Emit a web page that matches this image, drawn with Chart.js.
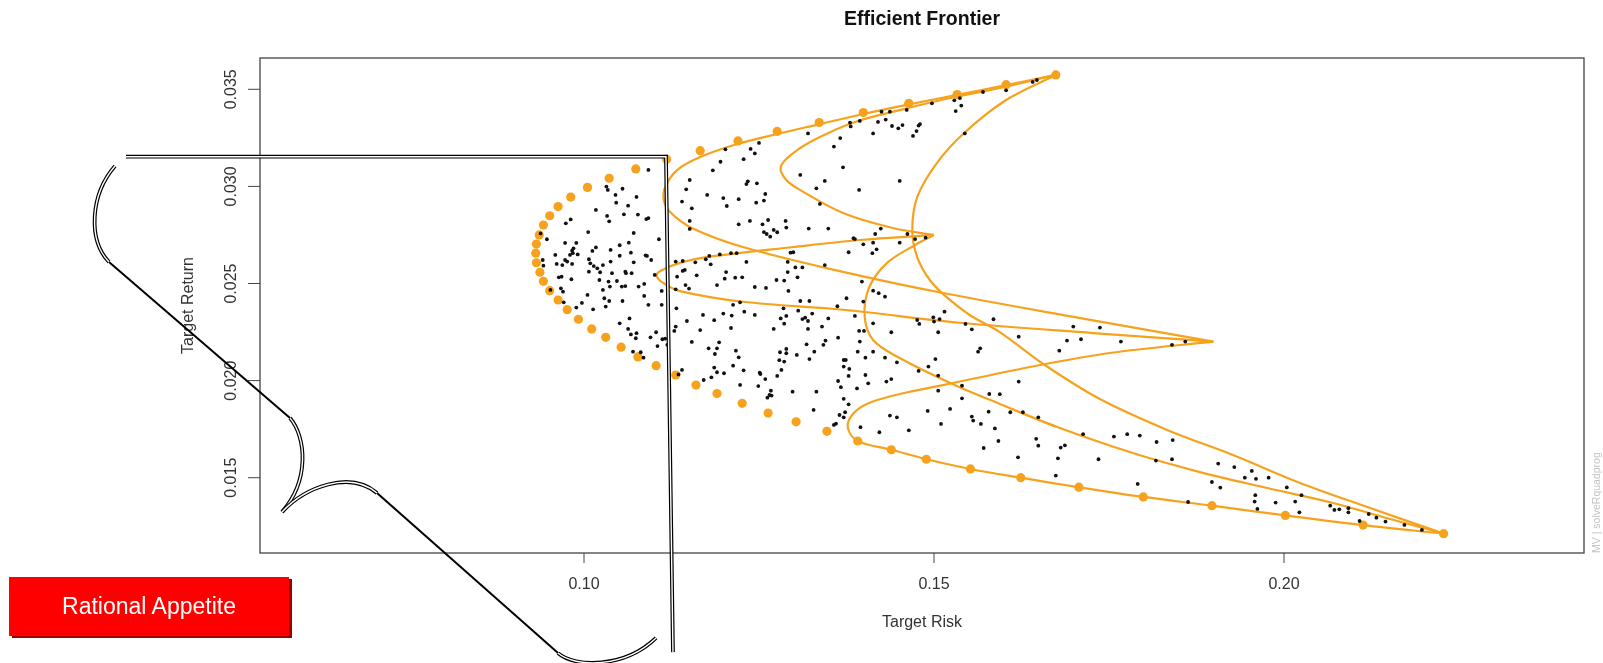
<!DOCTYPE html>
<html>
<head>
<meta charset="utf-8">
<title>Efficient Frontier</title>
<script src="https://cdn.jsdelivr.net/npm/chart.js@4.4.1/dist/chart.umd.min.js"></script>
<style>
  html, body { margin: 0; padding: 0; background: #fff; }
  #wrap { position: relative; width: 1603px; height: 663px; overflow: hidden; }
  .badge {
    position: absolute; left: 9px; top: 577px; width: 280px; height: 59px;
    background: #ff0000; color: #fff;
    font: 23px "Liberation Sans", Arial, sans-serif;
    display: flex; align-items: center; justify-content: center;
    box-shadow: 3px 2px 0 #9a0000;
  }
</style>
</head>
<body>
<div id="wrap">
  <canvas id="frontierChart" width="1603" height="663"></canvas>
  <div class="badge">Rational Appetite</div>
</div>
<script>
// axis ranges and ticks (risk = x, return = y)
var riskRange = [0.053714, 0.242857];
var returnRange = [0.011123, 0.036612];
var riskTicks = [0.10, 0.15, 0.20];
var riskTickLabels = ['0.10', '0.15', '0.20'];
var returnTicks = [0.015, 0.020, 0.025, 0.030, 0.035];
var returnTickLabels = ['0.015', '0.020', '0.025', '0.030', '0.035'];

// random feasible portfolios [risk, return]
var portfolios = [
  [0.1570,0.03486],[0.1603,0.03495],[0.1529,0.03443],[0.1537,0.03455],[0.1539,0.03416],[0.1531,0.03388],[0.1497,0.03428],[0.1461,0.03394],[0.1437,0.03385],[0.1425,0.03385],
  [0.1431,0.03344],[0.1420,0.03332],[0.1440,0.03311],[0.1449,0.03299],[0.1455,0.03316],[0.1480,0.03321],[0.1478,0.03313],[0.1475,0.03285],[0.1470,0.03260],[0.1413,0.03273],
  [0.1394,0.03337],[0.1381,0.03309],[0.1380,0.03328],[0.1544,0.03273],[0.1366,0.03249],[0.1357,0.03205],[0.1320,0.03273],[0.1250,0.03224],[0.1238,0.03193],[0.1244,0.03170],
  [0.1228,0.03140],[0.1202,0.03191],[0.1195,0.03127],[0.1184,0.03083],[0.1370,0.03098],[0.1451,0.03028],[0.1309,0.03059],[0.1344,0.03028],[0.1332,0.02990],[0.1393,0.02982],
  [0.1337,0.02910],[0.1151,0.03033],[0.1146,0.02985],[0.1140,0.02922],[0.1154,0.02887],[0.1176,0.02956],[0.1199,0.02940],[0.1204,0.02899],[0.1221,0.02934],[0.1232,0.03012],
  [0.1234,0.03026],[0.1247,0.03016],[0.1259,0.02961],[0.1246,0.02916],[0.1257,0.02927],[0.1151,0.02822],[0.1151,0.02781],[0.1221,0.02805],[0.1237,0.02822],[0.1255,0.02805],
  [0.1263,0.02827],[0.1257,0.02765],[0.1261,0.02755],[0.1266,0.02741],[0.1271,0.02776],[0.1276,0.02764],[0.1288,0.02822],[0.1289,0.02788],[0.1321,0.02783],[0.1349,0.02783],
  [0.1385,0.02733],[0.1387,0.02729],[0.1399,0.02702],[0.1413,0.02710],[0.1416,0.02755],[0.1424,0.02783],[0.1451,0.02710],[0.1462,0.02755],[0.1473,0.02729],[0.1488,0.02736],
  [0.1378,0.02661],[0.1412,0.02656],[0.1418,0.02676],[0.1299,0.02661],[0.1295,0.02659],[0.1344,0.02595],[0.1291,0.02611],[0.1302,0.02583],[0.1312,0.02583],[0.1291,0.02559],
  [0.1286,0.02515],[0.1275,0.02518],[0.1292,0.02462],[0.1305,0.02532],[0.1260,0.02477],[0.1244,0.02482],[0.1232,0.02611],[0.1218,0.02656],[0.1210,0.02656],[0.1194,0.02650],
  [0.1179,0.02642],[0.1174,0.02625],[0.1181,0.02599],[0.1159,0.02609],[0.1141,0.02616],[0.1131,0.02613],[0.1141,0.02565],[0.1144,0.02570],[0.1161,0.02542],[0.1133,0.02535],
  [0.1131,0.02470],[0.1145,0.02492],[0.1150,0.02474],[0.1201,0.02525],[0.1216,0.02530],[0.1226,0.02532],[0.1190,0.02492],[0.1203,0.02559],[0.1397,0.02510],[0.1413,0.02463],
  [0.1421,0.02450],[0.1430,0.02432],[0.1375,0.02424],
  [0.1092,0.03085],[0.1032,0.02999],[0.1034,0.02982],[0.1055,0.02988],[0.1045,0.02956],[0.1046,0.02916],[0.1063,0.02901],[0.1075,0.02946],[0.1017,0.02879],[0.1033,0.02848],
  [0.1036,0.02820],[0.1057,0.02856],[0.1077,0.02855],[0.1089,0.02832],[0.1092,0.02837],[0.1071,0.02760],[0.1107,0.02728],[0.1006,0.02765],[0.0981,0.02830],[0.0974,0.02810],
  [0.0947,0.02728],[0.0938,0.02758],[0.0973,0.02709],[0.0989,0.02709],[0.0985,0.02681],[0.0983,0.02669],[0.0980,0.02647],[0.0984,0.02656],[0.0991,0.02650],[0.0959,0.02647],
  [0.0961,0.02601],[0.0941,0.02621],[0.0942,0.02592],[0.0973,0.02621],[0.0976,0.02613],[0.0969,0.02595],[0.0983,0.02601],
  [0.1012,0.02668],[0.1017,0.02686],[0.1038,0.02673],[0.1051,0.02697],[0.1064,0.02710],[0.1067,0.02659],[0.1088,0.02645],[0.1090,0.02642],[0.1096,0.02621],[0.1071,0.02609],
  [0.1051,0.02643],[0.1038,0.02613],[0.1007,0.02625],[0.1009,0.02604],[0.1014,0.02590],[0.1019,0.02578],[0.1027,0.02595],[0.1040,0.02553],[0.1059,0.02561],[0.1060,0.02553],
  [0.1068,0.02553],[0.1023,0.02558],[0.1007,0.02561],[0.0964,0.02532],[0.0968,0.02535],[0.0982,0.02522],[0.1022,0.02518],[0.1035,0.02510],[0.1037,0.02484],[0.1027,0.02467],
  [0.1047,0.02513],[0.1054,0.02484],[0.1059,0.02487],[0.1078,0.02484],[0.1086,0.02498],[0.1101,0.02544],[0.1111,0.02462],[0.0967,0.02475],[0.0970,0.02458],[0.0952,0.02467],
  [0.1005,0.02441],[0.1029,0.02424],[0.1641,0.03538],[0.1647,0.03548],
  [0.0971,0.02403],[0.0997,0.02400],[0.1036,0.02410],[0.1055,0.02410],[0.1086,0.02436],[0.1092,0.02390],[0.1111,0.02390],[0.0989,0.02376],[0.1013,0.02367],[0.1031,0.02381],
  [0.1051,0.02295],[0.1065,0.02320],[0.1063,0.02266],[0.1067,0.02238],[0.1075,0.02244],[0.1074,0.02218],[0.1095,0.02223],[0.1103,0.02249],[0.1105,0.02178],[0.1112,0.02213],
  [0.1116,0.02216],[0.1119,0.02184],[0.1070,0.02149],[0.1081,0.02146],[0.1085,0.02118],[0.1132,0.02372],[0.1129,0.02256],[0.1131,0.02278],[0.1147,0.02307],[0.1170,0.02338],
  [0.1186,0.02311],[0.1199,0.02345],[0.1211,0.02335],[0.1210,0.02271],[0.1223,0.02403],[0.1229,0.02355],[0.1244,0.02338],[0.1213,0.02390],[0.1154,0.02199],[0.1166,0.02260],
  [0.1178,0.02166],[0.1190,0.02166],[0.1187,0.02137],[0.1193,0.02197],[0.1217,0.02154],[0.1221,0.02120],[0.1186,0.02067],[0.1190,0.02043],[0.1200,0.02038],
  [0.1213,0.02077],[0.1228,0.02053],[0.1182,0.02017],[0.1171,0.02003],[0.1140,0.02055],[0.1135,0.02032],[0.1223,0.01978],[0.1249,0.01972],[0.1251,0.02041],[0.1252,0.02034],
  [0.1259,0.02008],[0.1267,0.01948],[0.1265,0.01926],[0.1262,0.01912],[0.1268,0.01923],[0.1276,0.02024],[0.1282,0.02055],[0.1298,0.01943],[0.1285,0.02372],[0.1281,0.02320],
  [0.1289,0.02333],[0.1286,0.02293],[0.1271,0.02266],[0.1280,0.02146],[0.1289,0.02163],[0.1289,0.02141],[0.1279,0.02105],[0.1286,0.02098],[0.1304,0.02132],[0.1309,0.02410],
  [0.1322,0.02410],[0.1306,0.02360],[0.1312,0.02317],[0.1316,0.02324],[0.1320,0.02307],[0.1326,0.02345],[0.1320,0.02266],[0.1340,0.02278],[0.1349,0.02320],[0.1318,0.02187],
  [0.1322,0.02111],[0.1329,0.02149],[0.1342,0.02184],[0.1345,0.02206],[0.1332,0.01943],[0.1328,0.01849],[0.1363,0.02221],[0.1371,0.02106],[0.1374,0.02106],[0.1371,0.02072],
  [0.1379,0.02060],[0.1378,0.02024],[0.1363,0.01998],[0.1367,0.01966],[0.1390,0.01960],[0.1371,0.01906],[0.1378,0.01878],[0.1373,0.01837],[0.1365,0.01823],[0.1371,0.01811],
  [0.1360,0.01778],[0.1357,0.01772],[0.1362,0.02383],[0.1387,0.02333],[0.1399,0.02407],[0.1393,0.02256],[0.1400,0.02256],[0.1394,0.02201],[0.1391,0.02149],[0.1402,0.02118],
  [0.1413,0.02149],[0.1430,0.02118],[0.1447,0.02094],[0.1439,0.02249],[0.1413,0.02295],[0.1402,0.02029],[0.1406,0.01986],[0.1432,0.01995],[0.1439,0.02008],[0.1437,0.01820],
  [0.1447,0.01811],[0.1422,0.01734],[0.1464,0.01744],[0.1395,0.01760],[0.1491,0.01844],[0.1510,0.01777],[0.1523,0.01854],[0.1554,0.01815],[0.1556,0.01794],[0.1567,0.01777],
  [0.1578,0.01840],[0.1587,0.01754],[0.1592,0.01689],[0.1571,0.01653],[0.1609,0.01837],[0.1620,0.01605],[0.1627,0.01837],[0.1476,0.02312],[0.1479,0.02292],[0.1499,0.02326],
  [0.1500,0.02304],[0.1508,0.02317],[0.1515,0.02355],[0.1506,0.02249],[0.1554,0.02264],[0.1545,0.02292],[0.1585,0.02316],[0.1621,0.02226],[0.1563,0.02149],[0.1566,0.02166],
  [0.1478,0.02050],[0.1492,0.02072],[0.1502,0.02111],[0.1506,0.02026],[0.1506,0.01948],[0.1540,0.01974],[0.1540,0.01909],[0.1579,0.01931],[0.1594,0.01930],[0.1621,0.01995],
  [0.1699,0.02278],[0.1737,0.02273],[0.1690,0.02206],[0.1710,0.02213],[0.1767,0.02201],[0.1679,0.02154],[0.1840,0.02184],[0.1859,0.02201],[0.1649,0.01811],[0.1646,0.01700],
  [0.1649,0.01665],[0.1681,0.01655],[0.1687,0.01667],[0.1677,0.01600],[0.1674,0.01511],[0.1713,0.01724],[0.1735,0.01595],[0.1757,0.01712],[0.1776,0.01724],[0.1794,0.01717],
  [0.1818,0.01684],[0.1841,0.01694],[0.1817,0.01588],[0.1840,0.01595],[0.1791,0.01468],[0.1863,0.01375],[0.1906,0.01573],[0.1929,0.01555],[0.1944,0.01500],[0.1954,0.01535],
  [0.1960,0.01494],[0.1978,0.01500],[0.1897,0.01478],[0.1909,0.01449],[0.2004,0.01450],[0.2025,0.01410],[0.1959,0.01410],[0.1958,0.01377],[0.1962,0.01339],[0.1988,0.01372],
  [0.2016,0.01377],[0.2022,0.01322],[0.2066,0.01356],[0.2072,0.01334],[0.2079,0.01337],[0.2092,0.01343],[0.2092,0.01322],[0.2108,0.01277],[0.2121,0.01313],[0.2132,0.01294],
  [0.2145,0.01274],[0.2172,0.01257],[0.2197,0.01231]
];

// frontier portfolios (orange dots)
var frontier = [
  [0.1674,0.03574],[0.1603,0.03524],[0.1533,0.03473],[0.1464,0.03428],[0.1399,0.03380],[0.1336,0.03329],[0.1276,0.03283],[0.1220,0.03234],[0.1166,0.03184],[0.1118,0.03140],
  [0.1074,0.03090],[0.1036,0.03042],[0.1005,0.02995],[0.0981,0.02945],[0.0963,0.02896],[0.0951,0.02849],[0.0942,0.02801],[0.0936,0.02750],[0.0932,0.02703],[0.0931,0.02656],
  [0.0932,0.02607],[0.0937,0.02558],[0.0942,0.02511],[0.0951,0.02463],[0.0963,0.02415],[0.0976,0.02365],[0.0992,0.02316],[0.1011,0.02266],[0.1031,0.02223],[0.1053,0.02172],
  [0.1077,0.02122],[0.1103,0.02077],[0.1131,0.02029],[0.1160,0.01977],[0.1190,0.01933],[0.1226,0.01883],[0.1263,0.01833],[0.1303,0.01788],[0.1347,0.01739],[0.1391,0.01689],
  [0.1439,0.01644],[0.1489,0.01595],[0.1552,0.01545],[0.1624,0.01500],[0.1707,0.01451],[0.1799,0.01401],[0.1897,0.01356],[0.2002,0.01306],[0.2113,0.01256],[0.2228,0.01212]
];

// two-asset frontiers between the four assets
var curveTopA2 = [
  [0.1674,0.03574],[0.1603,0.03522],[0.1533,0.03471],[0.1466,0.03424],[0.1399,0.03373],[0.1337,0.03321],[0.1276,0.03270],[0.1219,0.03218],[0.1166,0.03151],[0.1133,0.03084],
  [0.1116,0.02997],[0.1114,0.02930],[0.1123,0.02868],[0.1154,0.02786],[0.1227,0.02688],[0.1370,0.02560],[0.1513,0.02451],[0.1709,0.02322],[0.1899,0.02201]
];
var curveTopA1 = [
  [0.1674,0.03574],[0.1594,0.03507],[0.1523,0.03455],[0.1451,0.03393],[0.1387,0.03332],[0.1334,0.03249],[0.1299,0.03172],[0.1281,0.03100],[0.1289,0.03033],[0.1309,0.02981],
  [0.1370,0.02863],[0.1441,0.02786],[0.1500,0.02750]
];
var curveTopB = [
  [0.1674,0.03574],[0.1603,0.03445],[0.1543,0.03275],[0.1504,0.03120],[0.1476,0.02945],[0.1469,0.02775],[0.1476,0.02636],[0.1494,0.02518],[0.1516,0.02436],[0.1551,0.02338],
  [0.1594,0.02250],[0.1656,0.02086],[0.1737,0.01905],[0.1833,0.01746],[0.1927,0.01617],[0.2023,0.01473],[0.2119,0.01349],[0.2228,0.01212]
];
var curveA1A2 = [
  [0.1500,0.02750],[0.1394,0.02724],[0.1299,0.02688],[0.1180,0.02638],[0.1137,0.02606],[0.1109,0.02564],[0.1104,0.02539],[0.1113,0.02503],[0.1137,0.02461],[0.1227,0.02406],
  [0.1370,0.02365],[0.1537,0.02298],[0.1727,0.02245],[0.1899,0.02201]
];
var curveA1B = [
  [0.1500,0.02750],[0.1473,0.02698],[0.1433,0.02606],[0.1407,0.02477],[0.1401,0.02328],[0.1413,0.02209],[0.1451,0.02116],[0.1523,0.01988],[0.1594,0.01880],[0.1676,0.01761],
  [0.1784,0.01627],[0.1880,0.01529],[0.1976,0.01447],[0.2070,0.01370],[0.2141,0.01298],[0.2228,0.01212]
];
var curveBA2 = [
  [0.2228,0.01212],[0.2113,0.01256],[0.2002,0.01306],[0.1897,0.01356],[0.1799,0.01401],[0.1707,0.01451],[0.1624,0.01500],[0.1552,0.01545],[0.1489,0.01595],[0.1439,0.01644],
  [0.1391,0.01689],[0.1377,0.01756],[0.1383,0.01823],[0.1404,0.01880],[0.1451,0.01931],[0.1513,0.01977],[0.1637,0.02070],[0.1751,0.02142],[0.1899,0.02201]
];

// hand-drawn overlay, in risk/return units
var guideLine = [[0.03457,0.03153],[0.11171,0.03153],[0.11271,0.00602]];
var braceCurves = [
  [[0.03300,0.03105],[0.02943,0.02956],[0.02914,0.02724],[0.03214,0.02611]],
  [[0.05800,0.01807],[0.06029,0.01710],[0.06086,0.01488],[0.05686,0.01323]],
  [[0.05686,0.01323],[0.06014,0.01452],[0.06657,0.01540],[0.07043,0.01421]],
  [[0.09629,0.00597],[0.09871,0.00520],[0.10586,0.00520],[0.11029,0.00675]]
];
var braceLines = [
  [[0.03214,0.02611],[0.05800,0.01807]],
  [[0.07043,0.01421],[0.09629,0.00597]]
];

var ORANGE = '#f6a21c';
var FONT = '"Liberation Sans", Arial, sans-serif';

function toPoints(list) {
  return list.map(function (p) { return { x: p[0], y: p[1] }; });
}

function curveDataset(list) {
  return {
    data: toPoints(list),
    showLine: true,
    borderColor: ORANGE,
    borderWidth: 2.2,
    pointRadius: 0,
    tension: 0.35,
    order: 1
  };
}

// draws the box, axes, titles and the overlay
var decorPlugin = {
  id: 'decor',
  afterDraw: function (chart) {
    var ctx = chart.ctx, a = chart.chartArea;
    var xs = chart.scales.x, ys = chart.scales.y;
    var P = function (p) { return [xs.getPixelForValue(p[0]), ys.getPixelForValue(p[1])]; };
    var cx = (a.left + a.right) / 2, cy = (a.top + a.bottom) / 2;

    ctx.save();
    ctx.strokeStyle = '#444';
    ctx.lineWidth = 1.3;
    ctx.strokeRect(a.left, a.top, a.right - a.left, a.bottom - a.top);

    ctx.fillStyle = '#333';
    ctx.lineWidth = 1;
    ctx.font = '16px ' + FONT;
    ctx.textAlign = 'center';
    ctx.textBaseline = 'alphabetic';
    riskTicks.forEach(function (v, i) {
      var px = xs.getPixelForValue(v);
      ctx.beginPath(); ctx.moveTo(px, a.bottom); ctx.lineTo(px, a.bottom + 10); ctx.stroke();
      ctx.fillText(riskTickLabels[i], px, a.bottom + 36);
    });
    returnTicks.forEach(function (v, i) {
      var py = ys.getPixelForValue(v);
      ctx.beginPath(); ctx.moveTo(a.left, py); ctx.lineTo(a.left - 12, py); ctx.stroke();
      ctx.save();
      ctx.translate(a.left - 24, py);
      ctx.rotate(-Math.PI / 2);
      ctx.fillText(returnTickLabels[i], 0, 0);
      ctx.restore();
    });

    ctx.fillText('Target Risk', cx, a.bottom + 74);
    ctx.save();
    ctx.translate(a.left - 67, cy);
    ctx.rotate(-Math.PI / 2);
    ctx.fillText('Target Return', 0, 0);
    ctx.restore();

    ctx.fillStyle = '#111';
    ctx.font = 'bold 19.5px ' + FONT;
    ctx.fillText('Efficient Frontier', cx, 24.5);

    ctx.save();
    ctx.fillStyle = '#c4c4c4';
    ctx.font = '10.5px ' + FONT;
    ctx.textAlign = 'left';
    ctx.translate(1600, a.bottom);
    ctx.rotate(-Math.PI / 2);
    ctx.fillText('MV | solveRquadprog', 0, 0);
    ctx.restore();

    // overlay: double lines and brace
    var dbl = function (build) {
      ctx.beginPath(); build(); ctx.strokeStyle = '#000'; ctx.lineWidth = 3.8; ctx.stroke();
      ctx.beginPath(); build(); ctx.strokeStyle = '#fff'; ctx.lineWidth = 1.4; ctx.stroke();
    };
    ctx.lineJoin = 'miter';
    dbl(function () {
      guideLine.forEach(function (p, i) {
        var q = P(p);
        if (i === 0) ctx.moveTo(q[0], q[1]); else ctx.lineTo(q[0], q[1]);
      });
    });
    braceCurves.forEach(function (c) {
      var p0 = P(c[0]), p1 = P(c[1]), p2 = P(c[2]), p3 = P(c[3]);
      dbl(function () {
        ctx.moveTo(p0[0], p0[1]);
        ctx.bezierCurveTo(p1[0], p1[1], p2[0], p2[1], p3[0], p3[1]);
      });
    });
    ctx.strokeStyle = '#000';
    ctx.lineWidth = 2;
    braceLines.forEach(function (l) {
      var p0 = P(l[0]), p1 = P(l[1]);
      ctx.beginPath(); ctx.moveTo(p0[0], p0[1]); ctx.lineTo(p1[0], p1[1]); ctx.stroke();
    });
    ctx.restore();
  }
};

document.addEventListener('DOMContentLoaded', function () {
  var ctx = document.getElementById('frontierChart').getContext('2d');
  new Chart(ctx, {
    type: 'scatter',
    data: {
      datasets: [
        {
          label: 'Portfolios',
          data: toPoints(portfolios),
          pointRadius: 1.9,
          pointBorderWidth: 0,
          pointBackgroundColor: '#111',
          order: 0
        },
        curveDataset(curveTopA2),
        curveDataset(curveTopA1),
        curveDataset(curveTopB),
        curveDataset(curveA1A2),
        curveDataset(curveA1B),
        curveDataset(curveBA2),
        {
          label: 'Frontier',
          data: toPoints(frontier),
          pointRadius: 4.6,
          pointBorderWidth: 0,
          pointBackgroundColor: ORANGE,
          order: 2
        }
      ]
    },
    options: {
      responsive: false,
      animation: false,
      events: [],
      layout: { padding: { left: 260, right: 19, top: 58, bottom: 110 } },
      scales: {
        x: { type: 'linear', min: riskRange[0], max: riskRange[1], display: false },
        y: { type: 'linear', min: returnRange[0], max: returnRange[1], display: false }
      },
      plugins: {
        legend: { display: false },
        tooltip: { enabled: false }
      }
    },
    plugins: [decorPlugin]
  });
});
</script>
</body>
</html>
